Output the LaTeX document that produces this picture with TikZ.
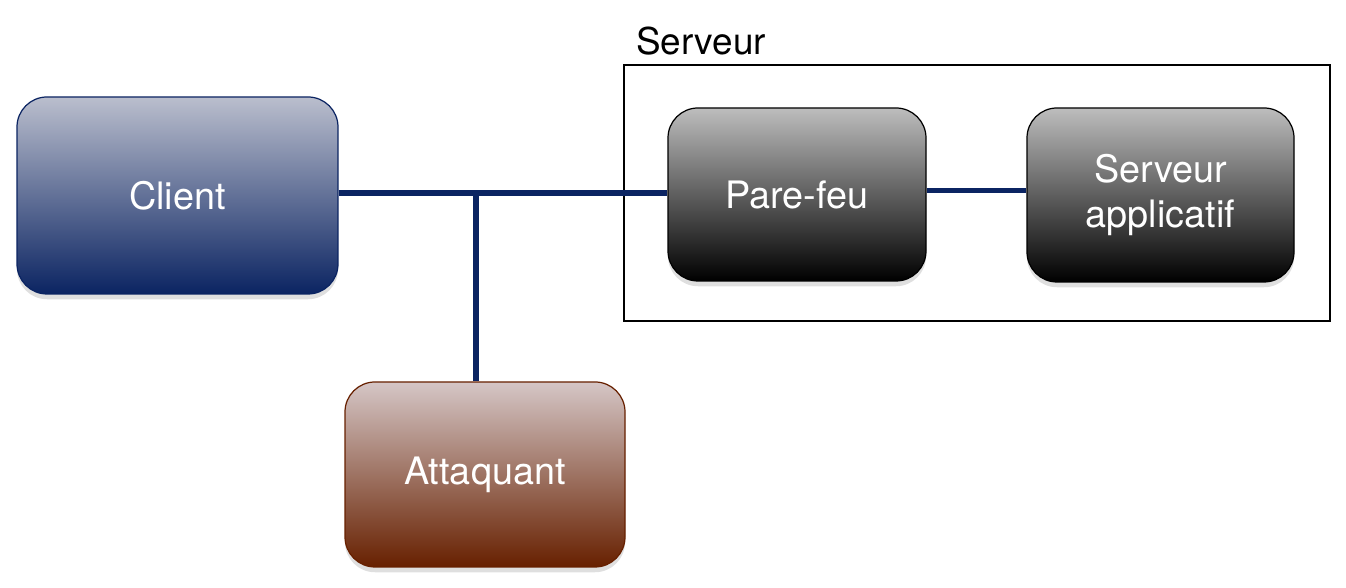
\documentclass[tikz,border=0pt]{standalone}
\usepackage{fontspec}
\setmainfont{TeX Gyre Heros}
\usetikzlibrary{shadows}

\definecolor{navy}{HTML}{0B2462}
\definecolor{navylight}{HTML}{BABECD}
\definecolor{rust}{HTML}{672000}
\definecolor{rustlight}{HTML}{D5C6C6}
\definecolor{greylight}{HTML}{BDBDBD}

\begin{document}
\begin{tikzpicture}[
  box/.style={draw, line width=0.7pt, rounded corners=0.6cm, text=white,
    font=\fontsize{21.5}{26}\selectfont, align=center,
    drop shadow={shadow xshift=0pt, shadow yshift=-3pt, opacity=0.25}},
  clientbox/.style={box, draw=navy, top color=navylight, bottom color=navy},
  attackbox/.style={box, draw=rust, top color=rustlight, bottom color=rust},
  serverbox/.style={box, draw=black, top color=greylight, bottom color=black},
  link/.style={navy, line width=3.2pt}]
\useasboundingbox (0,0) rectangle (26.92,11.76);

% serveur
\draw[line width=1.1pt] (12.48,5.34) rectangle (26.6,10.46);
\node[anchor=base west, font=\fontsize{21}{25}\selectfont, inner sep=0pt] (serveurlabel) at (12.72,10.66) {Serveur};

% machines
\node[clientbox, minimum width=6.42cm, minimum height=3.94cm] (client) at (3.55,7.85) {Client};
\node[attackbox, minimum width=5.6cm, minimum height=3.7cm] (attaquant) at (9.7,2.27) {Attaquant};
\node[serverbox, minimum width=5.16cm, minimum height=3.46cm] (parefeu) at (15.94,7.87) {Pare-feu};
\node[serverbox, minimum width=5.34cm, minimum height=3.48cm] (appli) at (23.21,7.86) {Serveur\\applicatif};

% liens
\coordinate (tap) at (9.52,7.9);
\draw[link] (client.east |- tap) -- (parefeu.west |- tap);
\draw[link] (tap) -- (tap |- attaquant.north);
\draw[link] (parefeu.east |- 0,7.95) -- (appli.west |- 0,7.95);
\end{tikzpicture}
\end{document}
